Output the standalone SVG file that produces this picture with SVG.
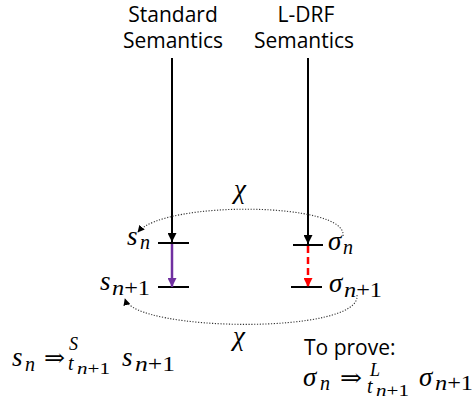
<svg xmlns="http://www.w3.org/2000/svg" width="474" height="408" viewBox="0 0 474 408">
<style>
.t{font-family:"Open Sans","Liberation Sans",sans-serif;font-size:21px;fill:#000}
.m{font-family:"Liberation Serif","DejaVu Serif",serif;font-style:italic;font-size:27px;fill:#000}
.s{font-family:"Liberation Serif","DejaVu Serif",serif;font-style:italic;font-size:20px;fill:#000}
.ss{font-family:"Liberation Serif","DejaVu Serif",serif;font-style:italic;font-size:17px;fill:#000}
.sup{font-family:"Liberation Serif","DejaVu Serif",serif;font-style:italic;font-size:18px;fill:#000}
.r{font-style:normal}
.ar{font-family:"Liberation Serif","DejaVu Serif",serif;font-size:24px;fill:#000}
.bar{stroke:#000;stroke-width:2}
.dot{fill:none;stroke:#333;stroke-width:1.1;stroke-dasharray:1.2,1.6}
</style>
<defs>
<marker id="ab" viewBox="0 0 10 10" refX="9" refY="5" markerWidth="7" markerHeight="7" orient="auto" markerUnits="userSpaceOnUse"><path d="M0,0L10,5L0,10z" fill="#000"/></marker>
<marker id="ak" viewBox="0 0 10 10" refX="10" refY="5" markerWidth="9" markerHeight="9" orient="auto" markerUnits="userSpaceOnUse"><path d="M0,0L10,5L0,10z" fill="#000"/></marker>
<marker id="ap" viewBox="0 0 10 10" refX="10" refY="5" markerWidth="9" markerHeight="9" orient="auto" markerUnits="userSpaceOnUse"><path d="M0,0L10,5L0,10z" fill="#7030a0"/></marker>
<marker id="ar" viewBox="0 0 10 10" refX="10" refY="5" markerWidth="9" markerHeight="9" orient="auto" markerUnits="userSpaceOnUse"><path d="M0,0L10,5L0,10z" fill="#ff0000"/></marker>
</defs>
<g id="title-standard"><text class="t" x="173" y="22" text-anchor="middle">Standard</text><text class="t" x="173" y="48" text-anchor="middle">Semantics</text></g>
<g id="title-ldrf"><text class="t" x="306" y="22" text-anchor="middle">L-DRF</text><text class="t" x="304" y="48" text-anchor="middle">Semantics</text></g>
<g id="state-sn"><line class="bar" x1="158" y1="243" x2="189" y2="243"/><text class="m" x="127" y="245">s</text><text class="s" x="140" y="249">n</text></g>
<g id="state-sn1"><line class="bar" x1="158" y1="287" x2="189" y2="287"/><text class="m" x="100" y="290">s</text><text class="s" x="112" y="295" textLength="38" lengthAdjust="spacingAndGlyphs">n<tspan class="r">+1</tspan></text></g>
<g id="state-sig-n"><line class="bar" x1="293" y1="245" x2="323" y2="245"/><text class="m" x="328" y="250">σ</text><text class="s" x="343" y="254">n</text></g>
<g id="state-sig-n1"><line class="bar" x1="291" y1="287" x2="322" y2="287"/><text class="m" x="329" y="292">σ</text><text class="s" x="344" y="297" textLength="38" lengthAdjust="spacingAndGlyphs">n<tspan class="r">+1</tspan></text></g>
<g id="connectors">
<line x1="172" y1="58" x2="172" y2="242" stroke="#000" stroke-width="2" marker-end="url(#ak)"/>
<line x1="308" y1="58" x2="308" y2="244" stroke="#000" stroke-width="2" marker-end="url(#ak)"/>
<line x1="172" y1="244" x2="172" y2="287" stroke="#7030a0" stroke-width="2.5" marker-end="url(#ap)"/>
<line x1="308" y1="246" x2="308" y2="287" stroke="#ff0000" stroke-width="2.5" stroke-dasharray="7,4" marker-end="url(#ar)"/>
<path class="dot" d="M343,236 C348,202 165,200 138,232" marker-end="url(#ab)"/>
<path class="dot" d="M357,295 C362,335 135,332 125,299" marker-end="url(#ab)"/>
</g>
<g id="chi-top"><text class="m" x="240" y="198" text-anchor="middle">χ</text></g>
<g id="chi-bottom"><text class="m" x="239" y="345" text-anchor="middle">χ</text></g>
<g id="eq-standard">
<text class="m" x="12" y="366">s</text><text class="s" x="25" y="371">n</text>
<text class="ar" x="44" y="366" textLength="21" lengthAdjust="spacingAndGlyphs">⇒</text>
<text class="sup" x="69" y="350">S</text>
<text class="s" x="68" y="370">t</text><text class="ss" x="77" y="374" textLength="33" lengthAdjust="spacingAndGlyphs">n<tspan class="r">+1</tspan></text>
<text class="m" x="122" y="366">s</text><text class="s" x="135" y="371" textLength="40" lengthAdjust="spacingAndGlyphs">n<tspan class="r">+1</tspan></text>
</g>
<g id="eq-prove">
<text class="t" x="304" y="355">To prove:</text>
<text class="m" x="303" y="386">σ</text><text class="s" x="320" y="390">n</text>
<text class="ar" x="340" y="386" textLength="22" lengthAdjust="spacingAndGlyphs">⇒</text>
<text class="sup" x="370" y="376">L</text>
<text class="s" x="367" y="393">t</text><text class="ss" x="376" y="396" textLength="33" lengthAdjust="spacingAndGlyphs">n<tspan class="r">+1</tspan></text>
<text class="m" x="419" y="386">σ</text><text class="s" x="435" y="390" textLength="38" lengthAdjust="spacingAndGlyphs">n<tspan class="r">+1</tspan></text>
</g>
</svg>
